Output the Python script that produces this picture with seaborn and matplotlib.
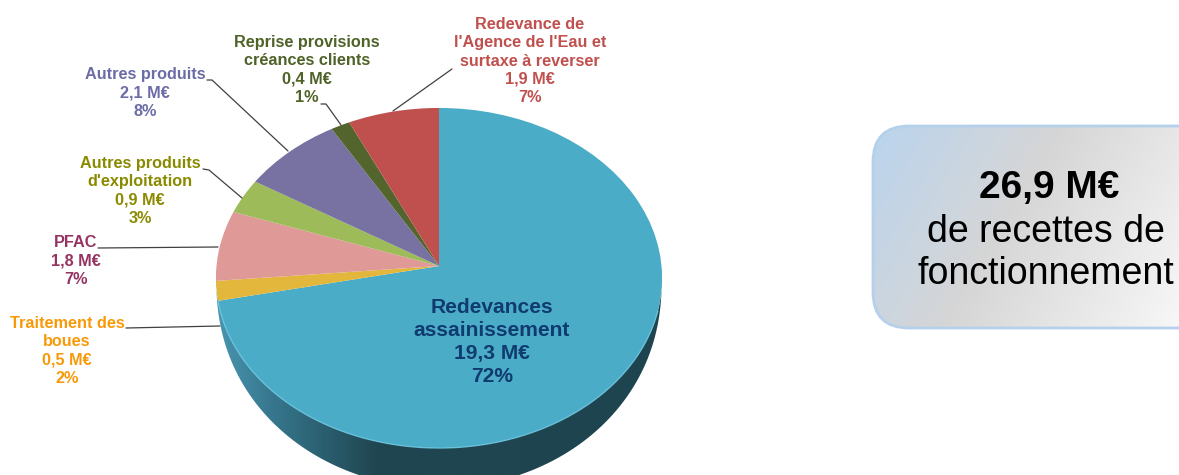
import numpy as np
import matplotlib
matplotlib.use("Agg")
import matplotlib.pyplot as plt
import seaborn as sns
from matplotlib.colors import LinearSegmentedColormap
from matplotlib.patches import FancyBboxPatch, PathPatch
from matplotlib.path import Path
from matplotlib.transforms import Transform

categories = ["Redevances\nassainissement", "Traitement des\nboues", "PFAC",
              "Autres produits\nd'exploitation", "Autres produits",
              "Reprise provisions\ncréances clients",
              "Redevance de\nl'Agence de l'Eau et\nsurtaxe à reverser"]
values_meur = [19.3, 0.5, 1.8, 0.9, 2.1, 0.4, 1.9]
value_labels = ["19,3 M€", "0,5 M€", "1,8 M€", "0,9 M€", "2,1 M€", "0,4 M€", "1,9 M€"]
percents = [72, 2, 7, 3, 8, 1, 7]
box_total = "26,9 M€"
box_caption = "de recettes de\nfonctionnement"

wedge_colors = ["#4BACC8", "#E3B63C", "#DF9A98", "#9DBB59", "#7772A1", "#53642C", "#C0504D"]
text_colors = ["#0F3B6E", "#F79A09", "#953462", "#8A8A00", "#6C6CA6", "#4F6228", "#C0504D"]

label_pos = [(492, 342), (67, 351), (76, 261), (140, 191), (145, 93), (307, 70), (530, 61)]
leaders = [None,
           [(126, 328), (220, 326)],
           [(98, 248), (218, 247)],
           [(203, 169), (209, 170), (242, 198)],
           [(207, 80), (212, 80), (288, 151)],
           [(321, 104), (326, 104), (341, 125)],
           [(452, 69), (393, 111)]]

sns.set_theme(style="white")
plt.rcParams["font.family"] = ["Liberation Sans", "DejaVu Sans"]

CX, CY, A, B, K, DEPTH = 439.0, 266.0, 222.5, 169.2, -0.0706, 40.0


class Tilt(Transform):
    """Perspective view of the unit pie, into pixel-like data coordinates."""
    input_dims = output_dims = 2
    is_separable = False

    def transform_non_affine(self, xy):
        xy = np.asarray(xy, float)
        d = 1 - K * xy[:, 1]
        return np.column_stack((CX + A * xy[:, 0] / d, CY - B * xy[:, 1] / d))


fig = plt.figure(figsize=(11.79, 4.75), dpi=100)
ax = fig.add_axes([0, 0, 1, 1])

wedges, _ = ax.pie(values_meur, colors=sns.color_palette(wedge_colors),
                   startangle=90, counterclock=False, radius=1)
tilt = Tilt()
for w in wedges:
    w.set_transform(tilt + ax.transData)
    w.set_zorder(3)
    w.set_edgecolor("none")

# side wall of the disc, tapering to nothing at the widest points of the rim
t = np.radians(np.linspace(180, 360, 240))
rim = tilt.transform(np.column_stack((np.cos(t), np.sin(t))))
taper = np.clip(-np.sin(t), 0, 1) ** 0.6
lower = rim.copy()
lower[:, 1] += DEPTH * taper
lower[:, 0] = CX + (lower[:, 0] - CX) * (1 - 0.01 * taper)
side = np.vstack((lower, rim[::-1]))
side_patch = PathPatch(Path(np.vstack((side, side[:1]))), fc="none", ec="none",
                       transform=ax.transData)
ax.add_patch(side_patch)
side_cmap = LinearSegmentedColormap.from_list(
    "side", [(0, "#4A95B0"), (0.12, "#37788F"), (0.36, "#1F4650"), (1, "#1E4450")])
im = ax.imshow(np.linspace(0, 1, 256)[None, :], cmap=side_cmap, aspect="auto",
               extent=(216, 662, 480, 270), zorder=2, interpolation="bilinear")
im.set_clip_path(side_patch)

# light rim along the front of the top face
t2 = np.radians(np.linspace(192, 345, 150))
rim2 = tilt.transform(np.column_stack((np.cos(t2), np.sin(t2))))
ax.plot(rim2[:, 0], rim2[:, 1], color="#6CC6E0", lw=1.0, zorder=4, alpha=.8)

# labels
for i, (x, y) in enumerate(label_pos):
    fs = 15.1 if i == 0 else 11.7
    ls = 1.27 if i == 0 else 1.275
    ax.text(x, y, f"{categories[i]}\n{value_labels[i]}\n{percents[i]}%", ha="center",
            va="center", color=text_colors[i], fontsize=fs, fontweight="bold",
            linespacing=ls, zorder=6)
    if leaders[i]:
        xs, ys = zip(*leaders[i])
        ax.plot(xs, ys, color="#404040", lw=0.9, zorder=5)

# summary box
box = FancyBboxPatch((873, 126), 360, 202, boxstyle="round,pad=0,rounding_size=36",
                     fc="none", ec="#B4D0EA", lw=2, transform=ax.transData, zorder=4)
ax.add_patch(box)
box_cmap = LinearSegmentedColormap.from_list(
    "box", [(0, "#BAD4EE"), (0.45, "#D6D6D6"), (1, "#F7F7F7")])
yy, xx = np.mgrid[0:1:100j, 0:1:200j]
grad = ax.imshow(xx * 0.72 + yy * 0.28, cmap=box_cmap, aspect="auto",
                 extent=(873, 1179, 328, 126), zorder=3, interpolation="bilinear")
grad.set_clip_path(box)

ax.text(1049, 188, box_total, ha="center", va="center", fontsize=28, fontweight="bold",
        color="black", zorder=6)
ax.text(1046, 253, box_caption, ha="center", va="center", fontsize=27, color="black",
        linespacing=1.21, zorder=6)

ax.set_xlim(0, 1179)
ax.set_ylim(475, 0)
ax.set_aspect("auto")
ax.axis("off")
fig.savefig("out.png", dpi=100, facecolor="white")
